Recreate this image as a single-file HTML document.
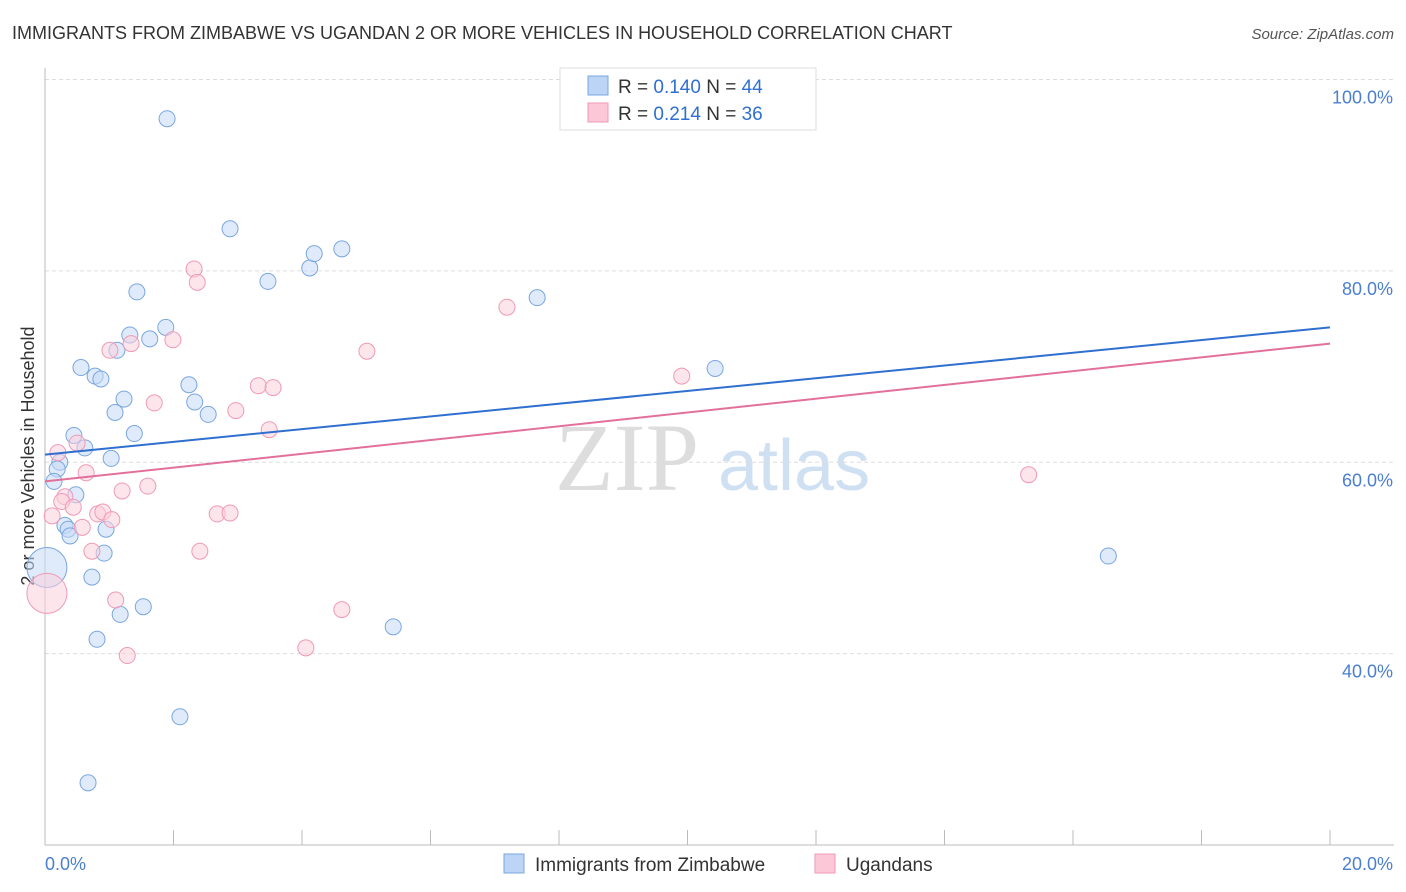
<!DOCTYPE html>
<html><head><meta charset="utf-8"><style>
body{margin:0;background:#fff;font-family:"Liberation Sans",sans-serif}
svg{display:block}
</style></head><body>
<svg id="chart" width="1406" height="892" viewBox="0 0 1406 892">
<text x="12" y="39" font-size="18" fill="#333">IMMIGRANTS FROM ZIMBABWE VS UGANDAN 2 OR MORE VEHICLES IN HOUSEHOLD CORRELATION CHART</text>
<text x="1394" y="39" font-size="15" fill="#555" font-style="italic" text-anchor="end">Source: ZipAtlas.com</text>
<g>
<text x="555" y="490" font-size="96" font-family="Liberation Serif,serif" fill="#ddd">ZIP</text>
<text x="718" y="490" font-size="72" fill="#cfe0f3">atlas</text>
</g>
<g id="grid"></g>
<line x1="45" y1="68" x2="45" y2="845" stroke="#bbb"/>
<line x1="45" y1="845" x2="1394" y2="845" stroke="#bbb"/>
<g id="ticks"></g>
<text transform="translate(34,456) rotate(-90)" font-size="18" fill="#333" text-anchor="middle">2 or more Vehicles in Household</text>
<text x="45" y="870" font-size="18" fill="#4a7fd0">0.0%</text>
<text x="1393" y="870" font-size="18" fill="#4a7fd0" text-anchor="end">20.0%</text>
<g id="points"></g>
<g id="lines"></g>
<g>
<rect x="560" y="68" width="256" height="62" fill="#fff" stroke="#ddd"/>
<rect x="588" y="76" width="20" height="19" fill="#bcd4f5" stroke="#7aa6e0"/>
<rect x="588" y="103" width="20" height="19" fill="#fcc8d8" stroke="#ef9ab5"/>
<text x="618" y="93" font-size="19" fill="#333">R = <tspan fill="#2f6fd0">0.140</tspan>   N = <tspan fill="#2f6fd0">44</tspan></text>
<text x="618" y="120" font-size="19" fill="#333">R = <tspan fill="#2f6fd0">0.214</tspan>   N = <tspan fill="#2f6fd0"> 36</tspan></text>
</g>
<g>
<rect x="504" y="854" width="20" height="19" fill="#bcd4f5" stroke="#7aa6e0"/>
<text x="535" y="871" font-size="19" fill="#333">Immigrants from Zimbabwe</text>
<rect x="815" y="854" width="20" height="19" fill="#fcc8d8" stroke="#ef9ab5"/>
<text x="846" y="871" font-size="19" fill="#333">Ugandans</text>
</g>
</svg>
<script>
const yTicks=[40,60,80,100];
const yTickLabels=["40.0%","60.0%","80.0%","100.0%"];
const xTicks=[0,2,4,6,8,10,12,14,16,18,20];
const blueX=[1.90,2.88,3.47,4.12,4.19,4.62,7.66,10.43,1.43,1.88,1.32,1.63,1.12,0.56,0.78,0.87,2.24,1.23,2.33,1.09,2.54,1.39,0.45,0.62,1.03,0.23,0.19,0.14,0.48,0.31,0.36,0.39,0.95,0.92,0.03,0.73,1.53,1.17,0.81,5.42,2.10,0.67,16.55];
const blueY=[95.9,84.4,78.9,80.3,81.8,82.3,77.2,69.8,77.8,74.1,73.3,72.9,71.7,69.9,69.0,68.7,68.1,66.6,66.3,65.2,65.0,63.0,62.8,61.5,60.4,60.0,59.3,58.0,56.6,53.4,53.0,52.3,53.0,50.5,49.0,48.0,44.9,44.1,41.5,42.8,33.4,26.5,50.2];
const pinkX=[2.32,2.37,7.19,5.01,1.99,1.01,1.34,9.91,3.32,3.55,1.70,2.97,3.49,0.50,0.20,0.64,1.60,1.20,0.31,0.26,0.44,0.11,0.58,0.82,0.90,1.04,2.68,2.88,0.73,2.41,0.03,1.10,4.62,1.28,4.06,15.31];
const pinkY=[80.2,78.8,76.2,71.6,72.8,71.7,72.4,69.0,68.0,67.8,66.2,65.4,63.4,62.0,61.0,58.9,57.5,57.0,56.4,55.9,55.3,54.4,53.2,54.6,54.8,54.0,54.6,54.7,50.7,50.7,46.3,45.6,44.6,39.8,40.6,58.7];
const blueTrend=[60.8,74.1];
const pinkTrend=[58.0,72.4];
const NS="http://www.w3.org/2000/svg";
const sx=v=>45+v/20*1285;
const sy=v=>845-(v-20)/80*765.5;
function mk(tag,attrs,parent){const e=document.createElementNS(NS,tag);for(const k in attrs)e.setAttribute(k,attrs[k]);document.getElementById(parent).appendChild(e);return e;}
yTicks.forEach((t,i)=>{
 const l=mk('line',{x1:45,x2:1394,y1:sy(t),y2:sy(t),stroke:'#ddd','stroke-dasharray':'4,3'},'grid');
 
 
 const tx=mk('text',{x:1393,y:sy(t)+24,'font-size':18,fill:'#4a7fd0','text-anchor':'end'},'grid');
 tx.textContent=yTickLabels[i];
 
 
});
xTicks.forEach(t=>{
 const l=mk('line',{x1:sx(t),x2:sx(t),y1:830,y2:845,stroke:'#bbb'},'ticks');
 
 
});
function pts(xs,ys,fill,stroke,name){
 xs.forEach((x,i)=>{
  const big=x<0.05;
  const c=mk('circle',{cx:sx(x),cy:sy(ys[i]),r:big?20:8,fill:fill,'fill-opacity':0.55,stroke:stroke,'stroke-width':1},'points');
  
  
 });
}
pts(blueX,blueY,'#c5daf6','#7aa6e0','zimbabwe-point');
pts(pinkX,pinkY,'#fbd0dd','#ef9ab5','ugandan-point');
const bl=mk('line',{x1:sx(0),y1:sy(blueTrend[0]),x2:sx(20),y2:sy(blueTrend[1]),stroke:'#2f6fd0','stroke-width':2},'lines');


const pl=mk('line',{x1:sx(0),y1:sy(pinkTrend[0]),x2:sx(20),y2:sy(pinkTrend[1]),stroke:'#e2709a','stroke-width':2},'lines');


</script>
</body></html>
